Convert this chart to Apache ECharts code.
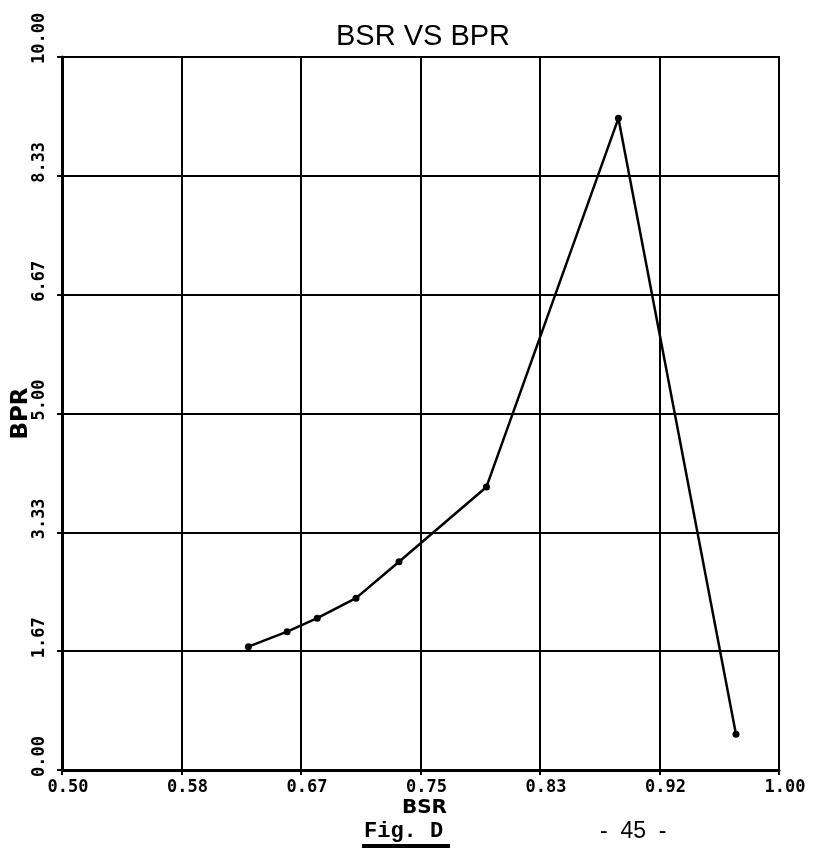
<!DOCTYPE html>
<html>
<head>
<meta charset="utf-8">
<title>BSR VS BPR</title>
<script src="https://cdn.jsdelivr.net/npm/echarts@6/dist/echarts.min.js"></script>
<style>
    html, body { margin: 0; padding: 0; background: #fff; }
    #main { width: 818px; height: 849px; }
</style>
</head>
<body>
<div id="main"></div>
<script>
// values
var bsrValues = [0.630, 0.657, 0.678, 0.705, 0.735, 0.796, 0.888, 0.970];
var bprValues = [1.73, 1.94, 2.13, 2.41, 2.92, 3.97, 9.14, 0.50];
var xTickLabels = ['0.50', '0.58', '0.67', '0.75', '0.83', '0.92', '1.00'];
var yTickLabels = ['0.00', '1.67', '3.33', '5.00', '6.67', '8.33', '10.00'];

;(function () {

    var points = [];
    for (var i = 0; i < bsrValues.length; i++) {
        points.push([bsrValues[i], bprValues[i]]);
    }

    var tickFont = {
        fontFamily: 'DejaVu Sans Mono',
        fontWeight: 'bold',
        fontSize: 17,
        color: '#000'
    };

    var option = {
        backgroundColor: '#fff',
        animation: false,
        title: {
            text: 'BSR VS BPR',
            left: 418,
            top: 17,
            textAlign: 'center',
            textStyle: {
                fontFamily: 'Liberation Sans',
                fontWeight: 'normal',
                fontSize: 29,
                color: '#000'
            }
        },
        grid: {
            left: 62,
            top: 57,
            right: 39,
            bottom: 79,
            outerBoundsMode: 'none',
            show: true,
            borderColor: '#000',
            borderWidth: 2
        },
        xAxis: {
            type: 'value',
            min: 0.5,
            max: 1,
            interval: 1 / 12,
            name: 'BSR',
            nameLocation: 'middle',
            nameGap: 28,
            nameMoveOverlap: false,
            nameTextStyle: {
                fontFamily: 'DejaVu Sans',
                fontWeight: 'bold',
                fontSize: 20,
                color: '#000',
                padding: [0, 0, 0, 8]
            },
            axisLine: { show: true, lineStyle: { color: '#000', width: 3 } },
            axisTick: { show: true, length: 5, lineStyle: { color: '#000', width: 2 } },
            splitLine: { show: true, lineStyle: { color: '#000', width: 2 } },
            axisLabel: Object.assign({
                margin: 9,
                padding: [0, 0, 0, 12],
                formatter: function (v) {
                    return xTickLabels[Math.round((v - 0.5) * 12)];
                }
            }, tickFont)
        },
        yAxis: {
            type: 'value',
            min: 0,
            max: 10,
            interval: 10 / 6,
            name: 'BPR',
            nameLocation: 'middle',
            nameGap: 29,
            nameRotate: 90,
            nameMoveOverlap: false,
            nameTextStyle: {
                fontFamily: 'DejaVu Sans',
                fontWeight: 'bold',
                fontSize: 23,
                color: '#000'
            },
            axisLine: { show: true, lineStyle: { color: '#000', width: 3 } },
            axisTick: { show: true, length: 5, lineStyle: { color: '#000', width: 2 } },
            splitLine: { show: true, lineStyle: { color: '#000', width: 2 } },
            axisLabel: Object.assign({
                rotate: 90,
                margin: 14,
                align: 'left',
                verticalAlign: 'bottom',
                padding: [0, 0, 0, -7],
                formatter: function (v) {
                    return yTickLabels[Math.round(v * 6 / 10)];
                }
            }, tickFont)
        },
        graphic: [
            {
                type: 'text',
                left: 364,
                top: 820,
                style: {
                    text: 'Fig. D',
                    font: 'bold 22px "Liberation Mono"',
                    fill: '#000'
                }
            },
            {
                type: 'rect',
                left: 362,
                top: 844,
                shape: { width: 88, height: 4 },
                style: { fill: '#000' }
            },
            {
                type: 'text',
                left: 600,
                top: 820,
                style: {
                    text: '-  45  -',
                    font: '23px "Liberation Sans"',
                    fill: '#000'
                }
            }
        ],
        series: [
            {
                type: 'line',
                data: points,
                symbol: 'circle',
                symbolSize: 7,
                lineStyle: { color: '#000', width: 2.5 },
                itemStyle: { color: '#000' }
            }
        ]
    };

    echarts.init(document.getElementById('main')).setOption(option);
})();
</script>
</body>
</html>
